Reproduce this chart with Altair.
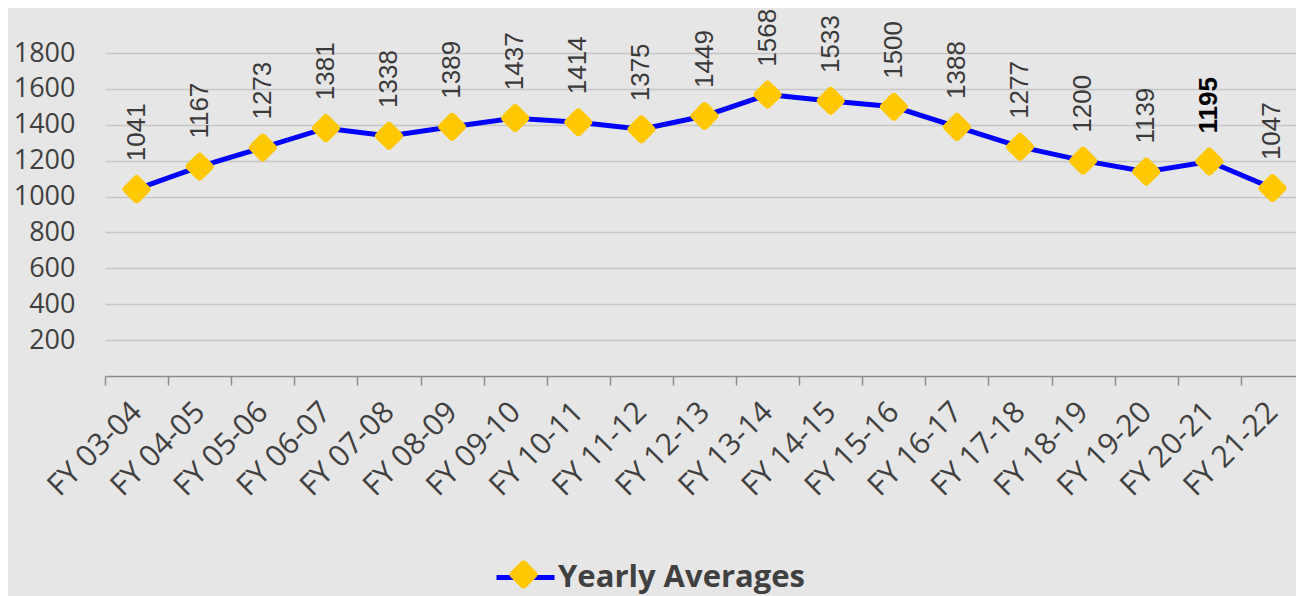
import altair as alt
import pandas as pd

years = ["FY 03-04", "FY 04-05", "FY 05-06", "FY 06-07", "FY 07-08", "FY 08-09",
         "FY 09-10", "FY 10-11", "FY 11-12", "FY 12-13", "FY 13-14", "FY 14-15",
         "FY 15-16", "FY 16-17", "FY 17-18", "FY 18-19", "FY 19-20", "FY 20-21",
         "FY 21-22"]
averages = [1041, 1167, 1273, 1381, 1338, 1389, 1437, 1414, 1375, 1449, 1568,
            1533, 1500, 1388, 1277, 1200, 1139, 1195, 1047]
highlight = ["FY 20-21"]
series_name = "Yearly Averages"
y_ticks = [200, 400, 600, 800, 1000, 1200, 1400, 1600, 1800]

df = pd.DataFrame({"year": years, "value": averages})
df["series"] = series_name
df["hl"] = df["year"].isin(highlight)

DIAMOND = ("M-0.82,-0.18 Q-1,0 -0.82,0.18 L-0.18,0.82 Q0,1 0.18,0.82 "
           "L0.82,0.18 Q1,0 0.82,-0.18 L0.18,-0.82 Q0,-1 -0.18,-0.82 Z")

x_enc = alt.X("year:N", sort=years, bandPosition=0.5,
              scale=alt.Scale(type="band", paddingInner=0, paddingOuter=0),
              axis=alt.Axis(title=None, labelAngle=-45, labelAlign="right",
                            labelBaseline="middle", labelFontSize=30,
                            labelFont="Open Sans", labelColor="#404040",
                            labelPadding=22, tickBand="extent", tickSize=9,
                            tickColor="#8c8c8c", tickWidth=1.5,
                            domainColor="#8c8c8c", domainWidth=1.5,
                            grid=False, labelOverlap=False, labelLimit=300))
y_enc = alt.Y("value:Q", scale=alt.Scale(domain=[0, 1800], nice=False),
              axis=alt.Axis(title=None, values=y_ticks, domain=False, ticks=False,
                            format="d", labelFontSize=27, labelFont="Open Sans",
                            labelColor="#404040", labelPadding=30,
                            gridColor="#c6c6c6", gridWidth=1.5))

base = alt.Chart(df)

line = base.mark_line(strokeWidth=5).encode(
    x=x_enc, y=y_enc,
    stroke=alt.Stroke("series:N", scale=alt.Scale(range=["#0000ff"]),
                      legend=alt.Legend(title=None, orient="none", legendX=389,
                                        legendY=493, symbolType="stroke",
                                        symbolSize=3364, symbolStrokeWidth=5,
                                        labelFontSize=31, labelFont="Open Sans",
                                        labelFontWeight="bold", labelColor="#404040",
                                        labelOffset=1, labelLimit=500, padding=0)),
)

points = base.mark_point(shape=DIAMOND, filled=True, size=961, opacity=1).encode(
    x=x_enc, y=y_enc,
    fill=alt.Fill("series:N", scale=alt.Scale(range=["#ffc800"]),
                  legend=alt.Legend(title=None, orient="none", legendX=403,
                                    legendY=506, symbolType=DIAMOND,
                                    symbolSize=961, symbolStrokeWidth=0,
                                    symbolOpacity=1, labelExpr="''",
                                    labelFontSize=1, padding=0)),
)

labels = base.transform_filter(alt.datum.hl == False).mark_text(
    angle=270, align="left", baseline="middle", dx=28, fontSize=26,
    font="Liberation Sans", color="#3a3a3a").encode(
    x=x_enc, y=y_enc, text=alt.Text("value:Q"))

labels_hl = base.transform_filter(alt.datum.hl == True).mark_text(
    angle=270, align="left", baseline="middle", dx=28, fontSize=26,
    font="Liberation Sans", fontWeight="bold", color="#000000").encode(
    x=x_enc, y=y_enc, text=alt.Text("value:Q"))

chart = alt.layer(line, points, labels, labels_hl).resolve_scale(
    stroke="independent", fill="independent"
).properties(
    width=1199, height=323, autosize="none",
    padding={"left": 97, "top": 45, "right": -8, "bottom": 220},
    background="#e6e6e6",
).configure_view(stroke=None)

chart.save("out.html", embed_options={"renderer": "svg", "actions": False})
